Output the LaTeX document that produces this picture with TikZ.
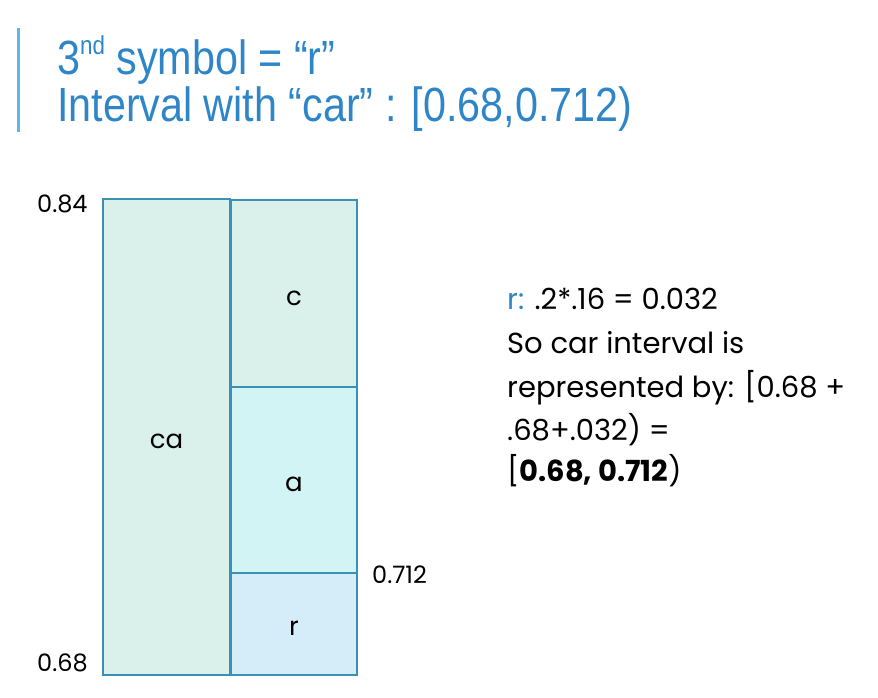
\documentclass[tikz,border=0pt]{standalone}
\usepackage{fontspec}
\setmainfont{Poppins}
\newfontfamily\titlefont[FakeStretch=0.86]{Liberation Sans}
\definecolor{titleblue}{HTML}{2E86C8}
\definecolor{barblue}{HTML}{5BB8E8}
\definecolor{edge}{HTML}{3B91B4}
\definecolor{mint}{HTML}{DAF0EA}
\definecolor{cyanfill}{HTML}{D3F4F5}
\definecolor{bluefill}{HTML}{D4EDF8}
\definecolor{rblue}{HTML}{2E86C8}
\tikzset{
  seg/.style={draw=edge, line width=1.6pt, minimum width=126pt, inner sep=0pt, text height=23pt, text depth=0pt, font=\fontsize{26}{28}\selectfont},
  num/.style={font=\fontsize{24}{26}\selectfont, inner sep=0pt},
  ttl/.style={anchor=base west, inner sep=0pt, text=titleblue, font=\titlefont\fontsize{48}{54}\selectfont},
  body/.style={anchor=base west, inner sep=0pt, font=\fontsize{29}{32}\selectfont}
}
\begin{document}
\begin{tikzpicture}[x=1pt,y=-1pt]
\useasboundingbox (0,0) rectangle (878,698);
% title bar
\fill[barblue] (17,28) rectangle (20,132);
\node[ttl] (t1) at (57,75) {3\raisebox{0.42em}{\fontsize{26}{28}\selectfont nd} symbol = “r”};
\node[ttl] (t2) at (57,122) {Interval with “car” : [0.68,0.712)};
% boxes
\node[seg, fill=mint, minimum width=127pt, minimum height=476pt] (ca) at (166.5,437) {ca};
\node[seg, fill=mint, minimum height=187pt] (c) at (294,293.5) {c};
\node[seg, fill=cyanfill, minimum height=186pt] (a) at (294,480) {a};
\node[seg, fill=bluefill, minimum height=102pt] (r) at (294,624) {r};
% values
\node[num, anchor=west] (v84) at (37,204) {0.84};
\node[num, anchor=west] (v68) at (37,663) {0.68};
\node[num, anchor=west] (v712) at (372,575) {0.712};
% explanation
\node[body] (l1) at (507,309) {\textcolor{rblue}{r:} .2*.16 = 0.032};
\node[body] (l2) at (507,353) {So car interval is};
\node[body] (l3) at (507,397) {represented by: [0.68 +};
\node[body] (l4) at (507,440) {.68+.032) =};
\node[body] (l5) at (507,481) {[\textbf{0.68, 0.712})};
\end{tikzpicture}
\end{document}
